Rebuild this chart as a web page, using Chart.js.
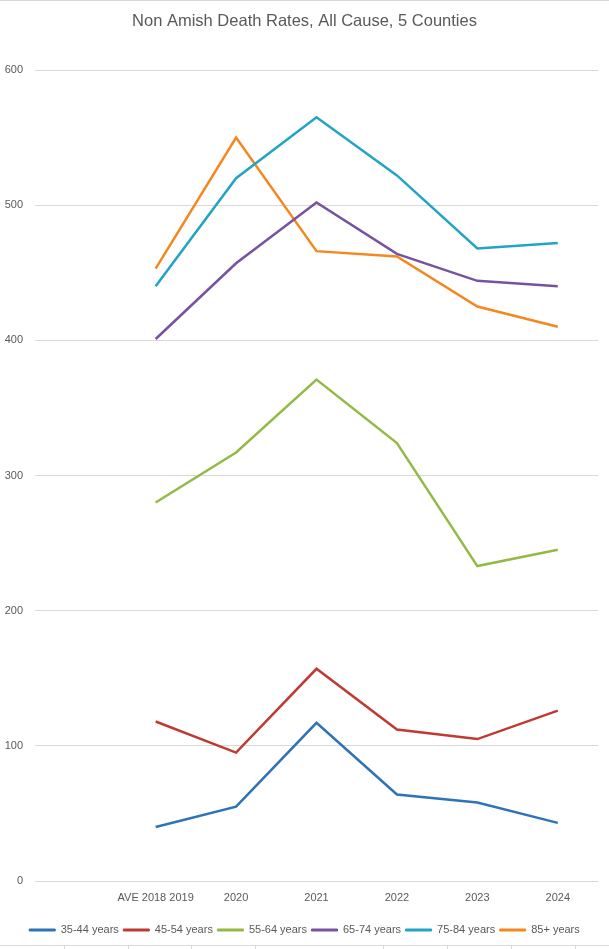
<!DOCTYPE html>
<html>
<head>
<meta charset="utf-8">
<script src="https://cdn.jsdelivr.net/npm/chart.js@4.4.1/dist/chart.umd.min.js"></script>
<style>
  html, body { margin: 0; padding: 0; background: #fff; }
</style>
</head>
<body>
<canvas id="deathChart" width="609" height="949"></canvas>
<script>
// categories (first slot is an empty category, as in the original sheet)
const categories = ["", "AVE 2018 2019", "2020", "2021", "2022", "2023", "2024"];
const seriesNames = ["35-44 years", "45-54 years", "55-64 years", "65-74 years", "75-84 years", "85+ years"];

const age35_44 = [null, 40, 55, 117, 64, 58, 43];
const age45_54 = [null, 118, 95, 157, 112, 105, 126];
const age55_64 = [null, 280, 317, 371, 324, 233, 245];
const age65_74 = [null, 401, 457, 502, 464, 444, 440];
const age75_84 = [null, 440, 520, 565, 522, 468, 472];
const age85plus = [null, 453, 550, 466, 462, 425, 410];

const yTicks = [0, 100, 200, 300, 400, 500, 600];

const colors = ["#2E73B8", "#BF3A35", "#95B945", "#7652A0", "#22A4C2", "#F5871F"];
const allSeries = [age35_44, age45_54, age55_64, age65_74, age75_84, age85plus];

const FONT = "'Liberation Sans', Arial, sans-serif";
const TEXT = "#595959";

// thin frame lines at the image edges (from the original screenshot)
const framePlugin = {
  id: "frame",
  afterDraw(chart) {
    const ctx = chart.ctx;
    ctx.save();
    ctx.strokeStyle = "#d9d9d9";
    ctx.lineWidth = 1;
    ctx.beginPath();
    ctx.moveTo(0, 0.5);
    ctx.lineTo(chart.width, 0.5);
    ctx.moveTo(0, 945.5);
    ctx.lineTo(chart.width, 945.5);
    [64, 128, 191, 255, 383, 447, 511, 575].forEach((x) => {
      ctx.moveTo(x + 0.5, 945);
      ctx.lineTo(x + 0.5, 949);
    });
    ctx.stroke();
    ctx.restore();
  },
};

const ctx = document.getElementById("deathChart");
new Chart(ctx, {
  type: "line",
  data: {
    labels: categories,
    datasets: allSeries.map((d, i) => ({
      label: seriesNames[i],
      data: d,
      borderColor: colors[i],
      backgroundColor: colors[i],
      borderWidth: 2.5,
      pointRadius: 0,
      tension: 0,
      spanGaps: false,
    })),
  },
  options: {
    responsive: false,
    animation: false,
    devicePixelRatio: 1,
    layout: { padding: { left: 0, right: 0, top: 0, bottom: 3.5 } },
    scales: {
      x: {
        offset: true,
        afterFit(scale) { scale.height = 39; },
        grid: { display: false, drawTicks: false },
        border: { display: false },
        ticks: { color: TEXT, font: { family: FONT, size: 11 }, padding: 10, maxRotation: 0, autoSkip: false },
      },
      y: {
        min: 0,
        max: 600,
        afterFit(scale) { scale.width = 35; },
        afterBuildTicks(scale) { scale.ticks = yTicks.map((v) => ({ value: v })); },
        grid: { color: "#d9d9d9", drawTicks: false, lineWidth: 1 },
        border: { display: false },
        ticks: { color: TEXT, font: { family: FONT, size: 11 }, padding: 12 },
      },
      // empty right-hand spacer so the plot ends at the same place as the original
      spacer: {
        type: "linear",
        position: "right",
        afterFit(scale) { scale.width = 11; },
        grid: { display: false, drawTicks: false },
        border: { display: false },
        ticks: { display: false },
      },
    },
    plugins: {
      title: {
        display: true,
        text: "Non Amish Death Rates, All Cause, 5 Counties",
        color: TEXT,
        font: { family: FONT, size: 16.5, weight: "normal" },
        padding: { top: 12, bottom: 38.2 },
      },
      legend: {
        position: "bottom",
        labels: {
          color: TEXT,
          font: { family: FONT, size: 11 },
          boxWidth: 26,
          boxHeight: 2,
          padding: 4.5,
          generateLabels(chart) {
            return Chart.defaults.plugins.legend.labels.generateLabels(chart)
              .map((item) => ({ ...item, lineWidth: 1 }));
          },
        },
      },
      tooltip: { enabled: false },
    },
  },
  plugins: [framePlugin],
});
</script>
</body>
</html>
